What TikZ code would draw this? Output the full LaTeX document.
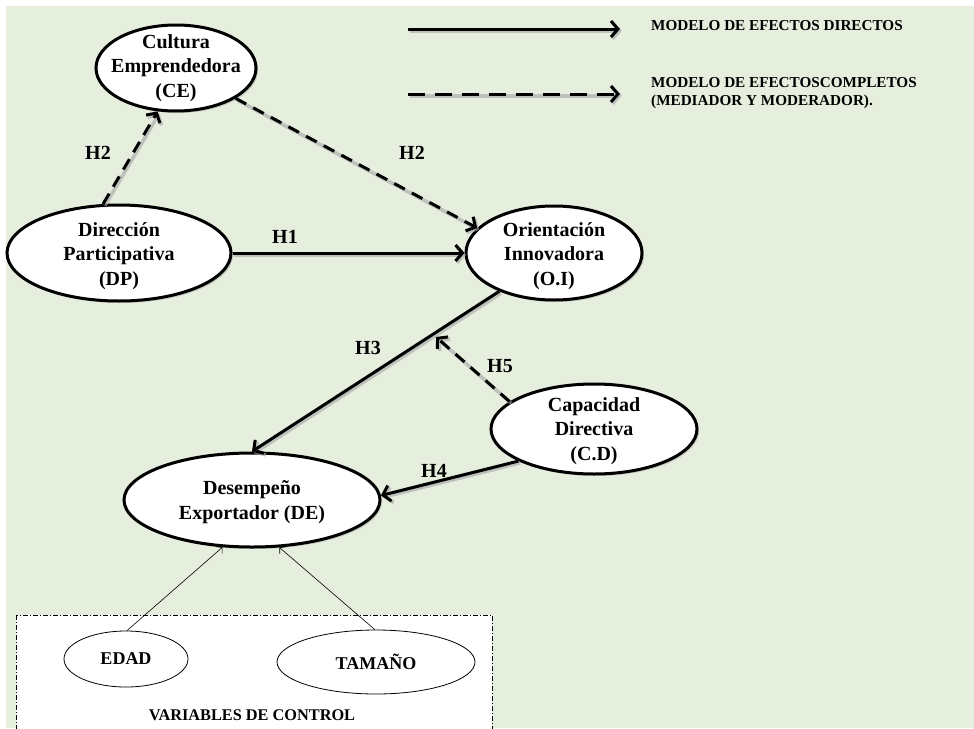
\documentclass[tikz,border=0pt]{standalone}
\usepackage{fontspec}
\setmainfont{Liberation Serif}
\usetikzlibrary{arrows.meta,shapes.geometric,calc,shadows}
\definecolor{bgc}{HTML}{E6EEDD}
\tikzset{
  shadowline/.style={preaction={draw=black!35, line width=3.6pt, opacity=0.6, transform canvas={shift={(1.8pt,-1.8pt)}}}},
  ell/.style={ellipse, draw, line width=3pt, fill=white, inner sep=0pt,
    drop shadow={shadow xshift=2pt, shadow yshift=-2pt, opacity=0.35}},
  sell/.style={ellipse, draw, line width=0.8pt, fill=white, inner sep=0pt},
  txt/.style={font=\bfseries\fontsize{20}{24.5}\selectfont, align=center, inner sep=0pt},
  lab/.style={font=\bfseries\fontsize{20}{22}\selectfont, inner sep=0pt},
  ctl/.style={font=\bfseries\fontsize{18}{20}\selectfont, inner sep=0pt},
  leg/.style={font=\bfseries\fontsize{15.2}{18}\selectfont, inner sep=0pt, align=left},
  tip/.style={-{Straight Barb[length=7pt,width=16pt]}},
  solidarr/.style={line width=3pt, tip},
  dasharr/.style={line width=3pt, dash pattern=on 12pt off 8pt, tip},
  thinarr/.style={line width=0.6pt, -{Straight Barb[length=4pt,width=9pt]}},
}
\begin{document}
\begin{tikzpicture}[x=1pt,y=-1pt]
\useasboundingbox (0,0) rectangle (974,728);
\fill[white] (0,0) rectangle (974,728);
\fill[bgc] (6,6) rectangle (974,728);

% control box
\draw[line width=0.7pt, dash pattern=on 5pt off 2pt on 1pt off 2pt, fill=white] (16,615) rectangle (492,745);
\node[font=\bfseries\fontsize{16.3}{18}\selectfont, inner sep=0pt] (vc) at (252,715) {VARIABLES DE CONTROL};

% ellipses
\node[ell, minimum width=160pt, minimum height=86pt] (ce) at (176,68) {};
\node[txt] at (ce) {Cultura\\Emprendedora\\(CE)};
\node[ell, minimum width=224pt, minimum height=96pt] (dp) at (119,253) {};
\node[txt] at ([yshift=-3pt]dp.center) {Dirección\\Participativa\\(DP)};
\node[ell, minimum width=176pt, minimum height=94pt] (oi) at (554,253) {};
\node[txt] at ([yshift=-3pt]oi.center) {Orientación\\Innovadora\\(O.I)};
\node[ell, minimum width=206pt, minimum height=90pt] (cd) at (594,429) {};
\node[txt] at ([yshift=-2pt]cd.center) {Capacidad\\Directiva\\(C.D)};
\node[ell, minimum width=256pt, minimum height=94pt] (de) at (252,500) {};
\node[txt] at ([yshift=-2pt]de.center) {Desempeño\\Exportador (DE)};
\node[sell, minimum width=124pt, minimum height=56pt] (edad) at (126,659) {};
\node[ctl] at (edad) {EDAD};
\node[sell, minimum width=198pt, minimum height=64pt] (tam) at (376,662) {};
\node[ctl] at (tam) {TAMAÑO};

% connectors
\draw[dasharr, shadowline] (dp.108) -- (ce.247);
\draw[dasharr, shadowline] (ce.333) -- (oi.162);
\draw[solidarr, shadowline] (dp.east) -- (oi.west);
\draw[solidarr, shadowline] (oi.215) -- (de.90);
\coordinate (h5end) at (436,337);
\draw[dasharr, shadowline] (cd.162) -- (h5end);
\draw[solidarr, shadowline] (cd.203) -- (de.2);
\draw[thinarr] (edad.88) -- (de.238);
\draw[thinarr] (tam.92) -- (de.300);

% labels
\node[lab] (h2a) at (98,153) {H2};
\node[lab] (h2b) at (412,153) {H2};
\node[lab] (h1) at (285,237) {H1};
\node[lab] (h3) at (368,348) {H3};
\node[lab] (h5) at (500,366) {H5};
\node[lab] (h4) at (434,471) {H4};

% legend
\coordinate (l1a) at (408,29);
\coordinate (l1b) at (620,29);
\coordinate (l2a) at (408,94);
\coordinate (l2b) at (620,94);
\draw[solidarr, shadowline] (l1a) -- (l1b);
\draw[line width=3pt, dash pattern=on 17pt off 10pt, tip, shadowline] (l2a) -- (l2b);
\node[leg, anchor=west] (lg1) at (651,26) {MODELO DE EFECTOS DIRECTOS};
\node[leg, anchor=north west] (lg2) at (651,77) {MODELO DE EFECTOSCOMPLETOS\\(MEDIADOR Y MODERADOR).};
\end{tikzpicture}
\end{document}
